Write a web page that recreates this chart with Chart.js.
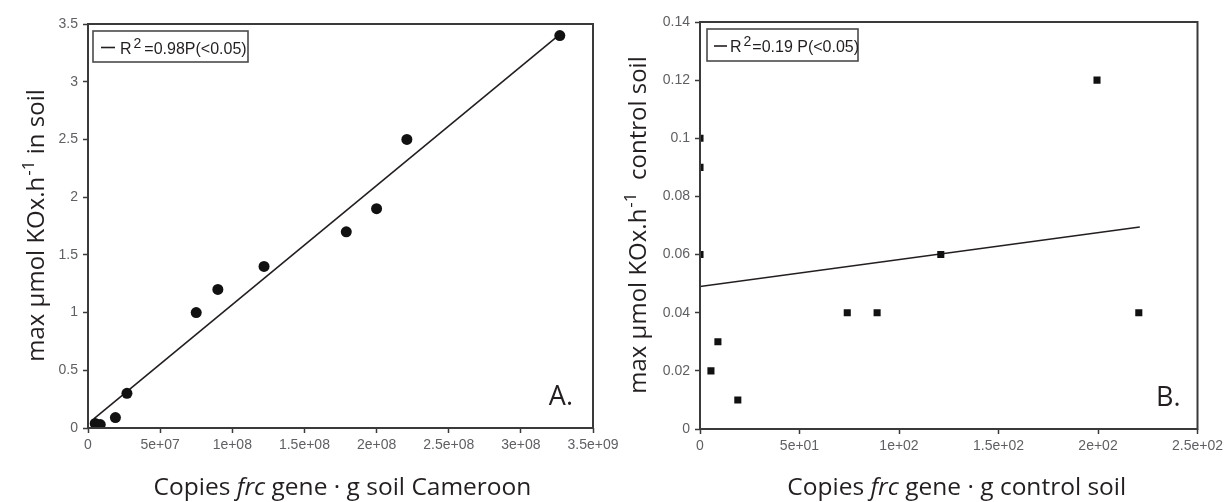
<!DOCTYPE html>
<html>
<head>
<meta charset="utf-8">
<script src="https://cdn.jsdelivr.net/npm/chart.js@4.4.1/dist/chart.umd.min.js"></script>
<style>
  body { margin: 0; background: #fff; width: 1227px; height: 502px; position: relative; overflow: hidden; }
  canvas { position: absolute; top: 0; }
  #chartA { left: 0; }
  #chartB { left: 610px; }
</style>
</head>
<body>
<canvas id="chartA" width="625" height="502"></canvas>
<canvas id="chartB" width="617" height="502"></canvas>
<script>
// Panel A: Cameroon soil
var copiesA   = [5e6, 8.5e6, 1.9e7, 2.7e7, 7.5e7, 9.0e7, 1.22e8, 1.79e8, 2.0e8, 2.21e8, 3.27e8];
var activityA = [0.04, 0.03, 0.09, 0.3, 1.0, 1.2, 1.4, 1.7, 1.9, 2.5, 3.4];
var fitCopiesA   = [4e6, 3.27e8];
var fitActivityA = [0.08, 3.41];
var xTicksA = [0, 5e7, 1e8, 1.5e8, 2e8, 2.5e8, 3e8, 3.5e8];
var xTickLabelsA = ['0', '5e+07', '1e+08', '1.5e+08', '2e+08', '2.5e+08', '3e+08', '3.5e+09'];
var yTicksA = [0, 0.5, 1, 1.5, 2, 2.5, 3, 3.5];
var yTickLabelsA = ['0', '0.5', '1', '1.5', '2', '2.5', '3', '3.5'];
var legendA = ['R', '2', '=0.98P(<0.05)'];
var yTitleA = ['max µmol KOx.h', '-1', ' in soil'];
var xTitleA = ['Copies ', 'frc', ' gene · g soil Cameroon'];

// Panel B: control soil
var copiesB   = [0, 0, 0, 5.5, 9, 19, 74, 89, 121, 199.5, 220.5];
var activityB = [0.1, 0.09, 0.06, 0.02, 0.03, 0.01, 0.04, 0.04, 0.06, 0.12, 0.04];
var fitCopiesB   = [0, 221];
var fitActivityB = [0.049, 0.0695];
var xTicksB = [0, 50, 100, 150, 200, 250];
var xTickLabelsB = ['0', '5e+01', '1e+02', '1.5e+02', '2e+02', '2.5e+02'];
var yTicksB = [0, 0.02, 0.04, 0.06, 0.08, 0.1, 0.12, 0.14];
var yTickLabelsB = ['0', '0.02', '0.04', '0.06', '0.08', '0.1', '0.12', '0.14'];
var legendB = ['R', '2', '=0.19 P(<0.05)'];
var yTitleB = ['max µmol KOx.h', '-1', '  control soil'];
var xTitleB = ['Copies ', 'frc', ' gene · g control soil'];

var inkColor = '#231f20';
var tickColor = '#5f6063';
var axisColor = '#3a3a3a';
var tickFont = { family: "'Liberation Sans', Arial, sans-serif", size: 14 };
var titleFamily = "'Open Sans', sans-serif";

function pairs(xs, ys) {
  var out = [];
  for (var i = 0; i < xs.length; i++) out.push({ x: xs[i], y: ys[i] });
  return out;
}

// frame, legend box, panel letter, axis titles with italic / superscript parts
var decor = {
  id: 'decor',
  afterDraw: function(chart, args, o) {
    var ctx = chart.ctx, a = chart.chartArea;
    ctx.save();
    ctx.strokeStyle = axisColor;
    ctx.lineWidth = 2;
    ctx.strokeRect(a.left, a.top, a.right - a.left, a.bottom - a.top);

    // legend
    var bx = a.left + o.boxDx, by = a.top + o.boxDy;
    ctx.lineWidth = 1.6;
    ctx.strokeStyle = '#4a4a4a';
    ctx.strokeRect(bx, by, o.boxW, o.boxH);
    var cy = by + o.boxH / 2 + 1;
    ctx.strokeStyle = inkColor;
    ctx.beginPath();
    ctx.moveTo(bx + o.lineX0, cy);
    ctx.lineTo(bx + o.lineX1, cy);
    ctx.stroke();
    ctx.fillStyle = inkColor;
    ctx.textBaseline = 'alphabetic';
    ctx.textAlign = 'left';
    var tx = bx + o.textX, base = cy + 6;
    ctx.font = "16px 'Liberation Sans', Arial, sans-serif";
    ctx.fillText(o.legend[0], tx, base);
    tx += ctx.measureText(o.legend[0]).width + 2;
    ctx.font = "14px 'Liberation Sans', Arial, sans-serif";
    ctx.fillText(o.legend[1], tx, base - 6);
    tx += ctx.measureText(o.legend[1]).width + o.supGap;
    ctx.font = "16px 'Liberation Sans', Arial, sans-serif";
    ctx.fillText(o.legend[2], tx, base);

    // panel letter
    ctx.font = '27px ' + titleFamily;
    ctx.textAlign = 'right';
    ctx.fillText(o.letter, a.right - o.letterDx, a.bottom - 23);
    ctx.textAlign = 'left';

    // x axis title
    var xf = ['24.5px ' + titleFamily, 'italic 24.5px ' + titleFamily, '24.5px ' + titleFamily];
    var xw = [], xt = 0, i;
    for (i = 0; i < o.xTitle.length; i++) {
      ctx.font = xf[i];
      xw.push(ctx.measureText(o.xTitle[i]).width);
      xt += xw[i];
    }
    var x = (a.left + a.right) / 2 + o.titleDx - xt / 2;
    for (i = 0; i < o.xTitle.length; i++) {
      ctx.font = xf[i];
      ctx.fillText(o.xTitle[i], x, 495);
      x += xw[i];
    }

    // y axis title, rotated, with superscript
    var yf = ['24px ' + titleFamily, '17px ' + titleFamily, '24px ' + titleFamily];
    var yr = [0, 10, 0];
    var yw = [], yt = 0;
    for (i = 0; i < o.yTitle.length; i++) {
      ctx.font = yf[i];
      yw.push(ctx.measureText(o.yTitle[i]).width);
      yt += yw[i];
    }
    ctx.translate(o.yTitleX, (a.top + a.bottom) / 2);
    ctx.rotate(-Math.PI / 2);
    var p = -yt / 2;
    for (i = 0; i < o.yTitle.length; i++) {
      ctx.font = yf[i];
      ctx.fillText(o.yTitle[i], p, 9 - yr[i]);
      p += yw[i] + (i === 0 ? 1 : 0);
    }
    ctx.restore();
  }
};

function buildChart(id, d) {
  var ctx = document.getElementById(id);
  return new Chart(ctx, {
    type: 'scatter',
    data: {
      datasets: [
        {
          label: 'points',
          data: pairs(d.xs, d.ys),
          pointStyle: d.pointStyle,
          pointRadius: d.pointRadius,
          pointHoverRadius: d.pointRadius,
          backgroundColor: '#111',
          borderColor: '#111',
          borderWidth: 0,
          clip: 0
        },
        {
          label: 'fit',
          data: pairs(d.fitX, d.fitY),
          showLine: true,
          borderColor: inkColor,
          borderWidth: 1.6,
          pointRadius: 0,
          fill: false
        }
      ]
    },
    options: {
      responsive: false,
      animation: false,
      devicePixelRatio: 1,
      layout: { padding: { left: 0, right: d.padRight, top: d.padTop, bottom: 0 } },
      plugins: {
        legend: { display: false },
        tooltip: { enabled: false },
        decor: d.decor
      },
      scales: {
        x: {
          type: 'linear',
          min: d.xTicks[0],
          max: d.xTicks[d.xTicks.length - 1],
          afterBuildTicks: function(s) { s.ticks = d.xTicks.map(function(v) { return { value: v }; }); },
          afterFit: function(s) { s.height = d.xHeight; },
          grid: { display: true, drawOnChartArea: false, tickLength: 5, tickWidth: 1.5, tickColor: axisColor },
          border: { display: false },
          ticks: {
            color: tickColor, font: tickFont, padding: 4, maxRotation: 0, autoSkip: false,
            callback: function(v, i) { return d.xLabels[i]; }
          }
        },
        y: {
          type: 'linear',
          min: d.yTicks[0],
          max: d.yTicks[d.yTicks.length - 1],
          afterBuildTicks: function(s) { s.ticks = d.yTicks.map(function(v) { return { value: v }; }); },
          afterFit: function(s) { s.width = d.yWidth; },
          grid: { display: true, drawOnChartArea: false, tickLength: 5, tickWidth: 1.5, tickColor: axisColor },
          border: { display: false },
          ticks: {
            color: tickColor, font: tickFont, padding: 5, autoSkip: false,
            callback: function(v, i) { return d.yLabels[i]; }
          }
        }
      }
    },
    plugins: [decor]
  });
}

buildChart('chartA', {
  xs: copiesA, ys: activityA, fitX: fitCopiesA, fitY: fitActivityA,
  pointStyle: 'circle', pointRadius: 5.5,
  xTicks: xTicksA, xLabels: xTickLabelsA, yTicks: yTicksA, yLabels: yTickLabelsA,
  padRight: 32, padTop: 24, xHeight: 74, yWidth: 88,
  decor: {
    legend: legendA, boxDx: 5, boxDy: 7, boxW: 155, boxH: 31,
    lineX0: 8, lineX1: 22, textX: 27, supGap: 3,
    letter: 'A.', letterDx: 20, titleDx: 2,
    xTitle: xTitleA, yTitle: yTitleA, yTitleX: 35
  }
});

buildChart('chartB', {
  xs: copiesB, ys: activityB, fitX: fitCopiesB, fitY: fitActivityB,
  pointStyle: 'rect', pointRadius: 5,
  xTicks: xTicksB, xLabels: xTickLabelsB, yTicks: yTicksB, yLabels: yTickLabelsB,
  padRight: 27, padTop: 22, xHeight: 73, yWidth: 90,
  decor: {
    legend: legendB, boxDx: 7, boxDy: 7, boxW: 151, boxH: 32,
    lineX0: 7, lineX1: 20, textX: 23, supGap: 1,
    letter: 'B.', letterDx: 17, titleDx: 8,
    xTitle: xTitleB, yTitle: yTitleB, yTitleX: 27
  }
});
</script>
</body>
</html>
